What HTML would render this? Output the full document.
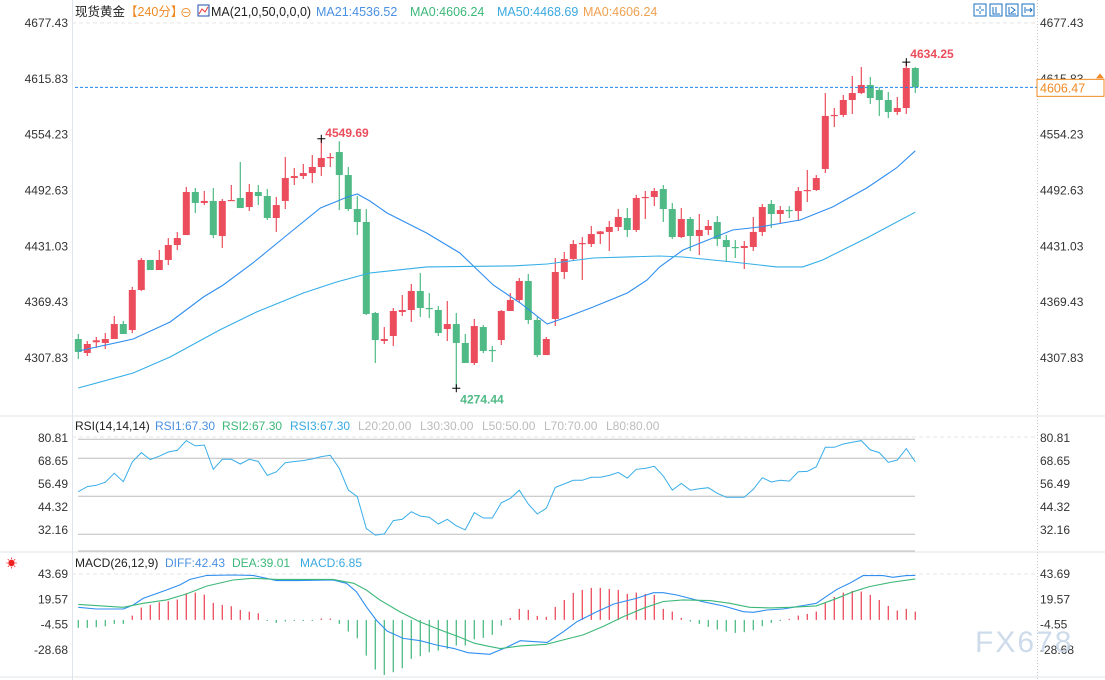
<!DOCTYPE html>
<html><head><meta charset="utf-8">
<style>
body{margin:0;background:#fff;}
svg{display:block;font-family:"Liberation Sans","Noto Sans CJK SC",sans-serif;}
</style></head>
<body>
<svg id="chart" width="1105" height="680" viewBox="0 0 1105 680" xmlns="http://www.w3.org/2000/svg">
<rect x="0" y="0" width="1105" height="680" fill="#fff"/>
<g id="frame">
<line x1="72.5" y1="0" x2="72.5" y2="680" stroke="#dfe5ea"/>
<line x1="1037.5" y1="0" x2="1037.5" y2="680" stroke="#c8c8c8" stroke-dasharray="1,2"/>
<line x1="0" y1="416" x2="1105" y2="416" stroke="#dfe5ea"/>
<line x1="0" y1="552" x2="1105" y2="552" stroke="#dfe5ea"/>
<line x1="0" y1="677" x2="1105" y2="677" stroke="#dfe5ea"/>
<line x1="72" y1="23" x2="1037" y2="23" stroke="#e6e6e6" stroke-dasharray="4,3"/>
<line x1="72" y1="437" x2="1037" y2="437" stroke="#e6e6e6" stroke-dasharray="4,3"/>
<line x1="72" y1="574" x2="1037" y2="574" stroke="#e6e6e6" stroke-dasharray="4,3"/>
</g>
<g font-size="12.5">
<text x="75" y="16" fill="#222">现货黄金</text>
<text x="125" y="16" fill="#f08a24">【240分】</text>
<text x="180" y="17" fill="#f08a24" font-size="12">⊖</text>
<rect x="198" y="5" width="11" height="11" fill="#fff" stroke="#1c4fa8"/>
<path d="M199 14 L202 9 L205 12 L208 7" stroke="#e33" fill="none"/>
<text x="211" y="16" fill="#222">MA(21,0,50,0,0,0)</text>
<text x="316" y="16" fill="#4a90e2">MA21:4536.52</text>
<text x="410" y="16" fill="#3cb878">MA0:4606.24</text>
<text x="497" y="16" fill="#3aa8e0">MA50:4468.69</text>
<text x="583" y="16" fill="#f0a050">MA0:4606.24</text>
</g>
<g stroke="#1a6fc0" fill="none">
<rect x="974" y="4" width="12" height="12"/>
<rect x="990" y="4" width="12" height="12"/>
<rect x="1006" y="4" width="12" height="12"/>
<rect x="1022" y="4" width="12" height="12"/>
<path d="M980 6v3M980 11v3M976 10h3M981 10h3M993 7v7h7M996 7v6M1009 7v7h7M1011 7l4 3-4 3M1025 7v6M1026 10h6M1030 8l2 2-2 2"/>
</g>
<g id="axes"></g>
<g id="plot"></g>
<g font-size="12">
<text x="75" y="430" fill="#222">RSI(14,14,14)</text>
<text x="155" y="430" fill="#4a90e2">RSI1:67.30</text>
<text x="222" y="430" fill="#3cb878">RSI2:67.30</text>
<text x="290" y="430" fill="#3aa8e0">RSI3:67.30</text>
<text x="358" y="430" fill="#bbb">L20:20.00</text>
<text x="420" y="430" fill="#bbb">L30:30.00</text>
<text x="482" y="430" fill="#bbb">L50:50.00</text>
<text x="544" y="430" fill="#bbb">L70:70.00</text>
<text x="606" y="430" fill="#bbb">L80:80.00</text>
</g>
<g font-size="12">
<text x="6" y="567" fill="#e22" font-size="11">☀</text>
<text x="75" y="567" fill="#222">MACD(26,12,9)</text>
<text x="165" y="567" fill="#4a90e2">DIFF:42.43</text>
<text x="232" y="567" fill="#3cb878">DEA:39.01</text>
<text x="300" y="567" fill="#3aa8e0">MACD:6.85</text>
</g>
<text x="975" y="652" font-size="30" fill="#c5d5e8" opacity="0.85" letter-spacing="2">FX678</text>
</svg>
<script>
const opens=[4328.8,4313.3,4325.2,4324.4,4328.8,4345.3,4338.7,4382.9,4416.0,4404.9,4416.0,4432.5,4443.5,4491.0,4478.9,4481.1,4442.4,4481.1,4484.4,4474.4,4491.0,4486.6,4462.3,4481.1,4506.4,4508.6,4511.9,4518.6,4528.5,4535.1,4509.7,4472.2,4457.9,4357.5,4326.6,4332.1,4358.6,4360.8,4381.8,4363.0,4360.8,4339.8,4345.3,4324.4,4302.3,4342.0,4316.7,4327.7,4359.7,4371.8,4392.8,4349.8,4311.1,4350.9,4402.7,4417.1,4433.6,4433.6,4444.6,4446.9,4452.4,4462.3,4449.1,4484.4,4485.5,4494.3,4472.2,4441.3,4461.2,4442.4,4449.1,4457.9,4438.0,4430.3,4429.2,4430.3,4446.9,4477.8,4466.7,4471.1,4470.0,4492.1,4493.2,4516.4,4574.9,4576.0,4592.5,4600.2,4609.1,4603.5,4592.5,4579.3,4583.7,4627.8];
const highs=[4334.3,4326.6,4331.0,4335.4,4354.2,4348.7,4386.2,4418.2,4416.0,4427.0,4440.2,4446.9,4496.5,4495.4,4492.1,4495.4,4483.3,4498.7,4524.1,4499.8,4498.7,4494.3,4485.5,4529.6,4517.5,4521.9,4531.8,4549.69,4534.0,4547.0,4518.6,4486.6,4472.2,4358.6,4342.0,4363.0,4377.3,4389.5,4401.6,4379.5,4365.2,4370.7,4357.5,4334.3,4350.9,4344.2,4321.1,4360.8,4379.5,4396.1,4400.5,4353.1,4331.0,4418.2,4424.8,4438.0,4441.3,4453.5,4448.0,4459.0,4472.2,4473.3,4487.7,4492.1,4495.4,4498.7,4478.9,4473.3,4463.4,4466.7,4460.1,4464.5,4443.5,4438.0,4436.9,4463.4,4477.8,4482.2,4475.5,4475.5,4496.5,4515.3,4509.7,4600.2,4583.7,4598.0,4619.0,4628.9,4617.9,4606.8,4601.3,4595.8,4634.25,4628.9];
const lows=[4306.7,4310.0,4318.9,4317.8,4328.8,4334.3,4335.4,4381.8,4404.9,4404.9,4410.4,4427.0,4443.5,4467.8,4476.6,4440.2,4429.2,4481.1,4473.3,4470.0,4476.6,4460.1,4446.9,4472.2,4498.7,4505.3,4500.9,4508.6,4518.6,4471.1,4470.0,4443.5,4355.3,4302.3,4323.3,4321.1,4354.2,4347.6,4353.1,4351.9,4332.1,4326.6,4274.44,4302.3,4300.1,4313.3,4303.4,4322.2,4359.7,4369.6,4345.3,4308.9,4311.1,4343.1,4395.0,4414.9,4393.9,4430.3,4433.6,4425.9,4448.0,4441.3,4446.9,4461.2,4475.5,4457.9,4439.1,4440.2,4425.9,4421.5,4443.5,4431.4,4413.8,4418.2,4406.0,4425.9,4442.4,4451.3,4456.8,4462.3,4459.0,4480.0,4492.1,4511.9,4562.7,4573.8,4577.1,4599.1,4588.1,4574.9,4572.6,4576.0,4577.1,4600.2];
const closes=[4314.5,4323.3,4327.4,4328.8,4345.3,4334.3,4382.9,4416.0,4404.9,4416.0,4432.5,4440.2,4491.0,4478.9,4481.1,4443.5,4481.1,4482.2,4473.3,4491.0,4486.6,4462.3,4476.6,4506.4,4508.6,4511.9,4518.6,4528.5,4529.6,4509.7,4472.2,4457.9,4356.4,4327.7,4328.8,4359.7,4360.8,4381.8,4363.0,4361.9,4335.4,4345.3,4324.4,4302.3,4343.1,4315.6,4315.6,4359.7,4371.8,4392.8,4349.8,4311.1,4328.8,4402.7,4417.1,4433.6,4434.7,4444.6,4447.5,4452.4,4463.4,4449.1,4484.4,4485.5,4492.1,4472.2,4441.3,4461.2,4442.4,4449.1,4453.5,4439.1,4430.3,4429.2,4431.4,4446.9,4474.4,4466.7,4471.1,4470.0,4492.1,4493.2,4506.4,4574.9,4576.0,4592.5,4600.2,4609.1,4594.7,4592.5,4579.3,4583.7,4627.8,4606.47];
const ma21Idx=[0,6.1,10.2,13.9,16.1,19.4,23.2,26.9,29.9,31,32.4,34.3,38.7,42.4,46.1,49.1,52.1,54.3,57.2,61,63.2,64.6,67.2,72.7,75.7,80.2,83.8,87.6,90.9,93];
const ma21Vals=[4315.5,4328.8,4347.6,4375.1,4388.4,4412.7,4443.5,4473.3,4485.5,4488.8,4481.1,4467.8,4445.8,4423.7,4388.4,4368.5,4345.3,4353.1,4364.1,4379.5,4393.9,4408.3,4427.0,4449.1,4452.4,4460.1,4474.4,4495.4,4517.5,4536.5];
const ma50Idx=[0,6.1,10.2,15.7,19.8,25,28.7,32.4,38.7,48.3,52.1,57.2,64.6,67.2,72.7,77.6,80.5,82.7,87.6,93];
const ma50Vals=[4274.7,4291.3,4308.9,4338.7,4358.6,4379.5,4391.7,4401.6,4408.3,4409.4,4411.6,4418.2,4420.4,4419.3,4413.8,4408.3,4408.3,4416.0,4440.2,4468.7];
const priceTicks=[4677.43,4615.83,4554.23,4492.63,4431.03,4369.43,4307.83];
const lastPrice=4606.47;
const rsiVals=[52.4,55.1,55.8,57.4,62.1,57.7,68.1,73.0,69.3,71.1,73.3,74.2,79.3,76.5,77.0,64.2,69.5,69.5,67.0,69.5,68.3,61.0,62.9,67.7,68.3,68.8,69.7,70.9,71.6,64.7,53.3,49.8,33.1,29.6,30.2,37.2,37.9,41.9,39.6,39.0,35.4,37.9,34.5,32.3,41.4,38.6,38.6,46.6,48.9,53.2,45.9,40.7,43.7,54.7,56.5,58.4,58.4,60.0,60.0,61.0,62.6,59.6,64.2,64.7,65.8,60.7,53.2,56.8,53.2,54.0,54.5,51.6,49.5,49.5,49.5,53.7,59.8,57.5,58.4,58.0,62.9,63.1,65.6,75.8,75.8,77.5,78.4,79.3,74.4,73.0,67.9,69.1,75.1,68.1];
const rsiLevels=[80,70,50,30];
const rsiTicks=[80.81,68.65,56.49,44.32,32.16];
const macdHist=[-7.6,-7.6,-7.0,-6.0,-3.8,-3.8,4.1,11.7,14.3,16.8,17.8,19.4,25.4,26.0,24.1,16.2,14.3,13.0,9.5,7.9,6.3,-1.0,-2.9,-1.6,-1.0,-1.0,-1.0,1.3,1.3,-3.8,-11.1,-17.5,-34.0,-47.3,-52.4,-49.8,-46.0,-37.1,-34.6,-30.8,-29.2,-27.6,-24.4,-24.4,-18.5,-17.1,-14.3,-5.4,1.9,10.5,9.5,3.8,2.9,12.4,19.0,25.7,28.6,30.5,30.5,29.5,28.6,24.8,26.0,24.8,23.8,10.5,7.9,1.9,-1.6,-3.8,-6.7,-9.2,-11.1,-12.4,-11.7,-9.8,-6.0,-2.9,-1.0,1.0,4.1,5.7,7.9,16.8,21.9,26.0,27.6,27.0,23.8,19.0,13.3,8.9,10.5,7.9];
const diffIdx=[0,2,5,6.1,7.2,9.8,11.3,12.4,14.3,17.2,19.4,20.9,22,24.3,28.3,29.8,30.9,32,33.1,34.3,36.1,38,39.8,41.7,43.3,45.7,47.6,49.1,50.6,52.1,53.9,55.4,57.6,59.5,62,63.9,65,66.5,69.4,71.7,73.9,75,76.5,78.3,79.4,80.9,82,83.1,84.3,85.7,87.2,89.4,90.5,92,93];
const diffVals=[12.0,10.4,10.4,14.2,20.5,28.5,33.3,38.6,42.4,42.8,42.4,39.6,37.4,37.4,38.0,34.9,26.9,12.6,-0.1,-10.6,-17.6,-19.8,-23.9,-27.1,-31.2,-32.8,-26.1,-19.8,-20.7,-21.4,-11.2,-1.7,7.8,15.1,20.5,25.9,25.9,23.7,17.3,13.2,7.8,7.2,9.4,10.4,12.0,14.2,15.8,22.2,29.1,34.9,42.2,42.2,40.6,42.2,42.4];
const deaIdx=[0,5,7.2,9.8,12,14.3,17.2,19.4,22,28.3,30.6,32,33.5,35.7,37.9,40.2,42.4,44,45.4,46.9,49.1,52,53.9,56.1,58.3,60.6,62.8,65,67.2,70.2,72.4,74.6,76.9,79.1,82,84.3,86.1,87.9,90.2,93];
const deaVals=[14.8,12.0,15.8,19.0,24.7,32.3,38.0,39.6,38.6,38.6,34.9,28.5,19.0,7.9,-1.6,-9.5,-16.5,-22.2,-24.8,-27.3,-24.8,-23.2,-19.0,-14.3,-6.3,3.2,11.1,17.5,19.0,18.4,15.8,12.0,11.4,12.0,13.3,20.6,26.9,31.7,35.6,39.0];
const macdTicks=[43.69,19.57,-4.55,-28.68];

const NS='http://www.w3.org/2000/svg';
const X0=78.3, STEP=9;
function xAt(i){return X0+STEP*i;}
function yP(v){return 358-(v-4307.83)*0.9063;}
function yR(v){return 591.3-1.9*v;}
function yM(v){return 619.9-1.05*v;}
function mk(tag,attrs,parent){const e=document.createElementNS(NS,tag);for(const k in attrs)e.setAttribute(k,attrs[k]);parent.appendChild(e);return e;}
const plot=document.getElementById('plot');
const axes=document.getElementById('axes');
const RED='#ec4d5c', GREEN='#4fba85';

// price axis labels
priceTicks.forEach(v=>{
  const y=yP(v);
  let t=mk('text',{x:68,y:y+4,'text-anchor':'end','font-size':12,fill:'#333'},axes);t.textContent=v.toFixed(2);
  
  
  let t2=mk('text',{x:1040,y:y+4,'font-size':12,fill:'#333'},axes);t2.textContent=v.toFixed(2);
  
  
});
rsiTicks.forEach(v=>{
  const y=yR(v);
  let t=mk('text',{x:68,y:y+4,'text-anchor':'end','font-size':12,fill:'#333'},axes);t.textContent=v.toFixed(2);
  
  
  let t2=mk('text',{x:1040,y:y+4,'font-size':12,fill:'#333'},axes);t2.textContent=v.toFixed(2);
  
  
});
macdTicks.forEach(v=>{
  const y=yM(v);
  let t=mk('text',{x:68,y:y+4,'text-anchor':'end','font-size':12,fill:'#333'},axes);t.textContent=v.toFixed(2);
  
  
  let t2=mk('text',{x:1040,y:y+4,'font-size':12,fill:'#333'},axes);t2.textContent=v.toFixed(2);
  
  
});
// RSI level lines
rsiLevels.forEach(v=>{
  const l=mk('line',{x1:78,x2:915,y1:yR(v),y2:yR(v),stroke:'#bdbdbd'},plot);
  
  
});
mk('line',{x1:78,x2:915,y1:551,y2:551,stroke:'#bdbdbd'},plot);

// candles
opens.forEach((o,i)=>{
  const c=closes[i],h=highs[i],l=lows[i];
  const up=c>=o, col=up?RED:GREEN, x=xAt(i);
  const g=mk('g',{},plot);
  
  
  mk('line',{x1:x,x2:x,y1:yP(h),y2:yP(l),stroke:col,'stroke-width':1.2},g);
  const top=yP(Math.max(o,c)),bot=yP(Math.min(o,c));
  mk('rect',{x:x-3.5,y:top,width:7,height:Math.max(1.2,bot-top),fill:col},g);
});
function poly(idx,vals,yf,col,name){
  const pts=idx.map((k,j)=>xAt(k).toFixed(1)+','+yf(vals[j]).toFixed(1)).join(' ');
  const p=mk('polyline',{points:pts,fill:'none',stroke:col,'stroke-width':1.1},plot);
  
  
}
poly(ma21Idx,ma21Vals,yP,'#2f8ef0','ma21-line');
poly(ma50Idx,ma50Vals,yP,'#35aee8','ma50-line');

// last price line & tag
const ly=yP(lastPrice);
const lpl=mk('line',{x1:75,x2:1105,y1:ly,y2:ly,stroke:'#1e88f0','stroke-dasharray':'3,2'},plot);


const tag=mk('rect',{x:1037,y:ly-8,width:67,height:17,fill:'#fff',stroke:'#f08a24'},plot);


const tt=mk('text',{x:1040,y:ly+5,'font-size':12.5,fill:'#f08a24'},plot);tt.textContent=lastPrice.toFixed(2);


mk('path',{d:`M1096 ${ly-9} l4 -5 l4 5 z`,fill:'#f08a24'},plot);

// extreme markers
function marker(i,v,label,col,dy){
  const x=xAt(i),y=yP(v);
  mk('path',{d:`M${x-4} ${y} h8 M${x} ${y-4} v8`,stroke:'#000','stroke-width':1},plot);
  const t=mk('text',{x:x+4,y:y+dy,'font-size':12,fill:col,'font-weight':'bold'},plot);t.textContent=label;
  
  
}
const hiIdx=highs.indexOf(Math.max(...highs.slice(0,60)));
marker(hiIdx,highs[hiIdx],highs[hiIdx].toFixed(2),'#ec4d5c',-2);
const loIdx=lows.indexOf(Math.min(...lows));
marker(loIdx,lows[loIdx],lows[loIdx].toFixed(2),'#4fba85',15);
const hi2=highs.indexOf(Math.max(...highs));
marker(hi2,highs[hi2],highs[hi2].toFixed(2),'#ec4d5c',-4);

// RSI line
const rp=mk('polyline',{points:rsiVals.map((v,i)=>xAt(i).toFixed(1)+','+yR(v).toFixed(1)).join(' '),fill:'none',stroke:'#3aaee8','stroke-width':1},plot);



// MACD histogram
macdHist.forEach((v,i)=>{
  const b=mk('line',{x1:xAt(i),x2:xAt(i),y1:yM(0),y2:yM(v),stroke:v>=0?RED:GREEN,'stroke-width':1.3},plot);
  
  
});
poly(diffIdx,diffVals,yM,'#2f8ef0','diff-line');
poly(deaIdx,deaVals,yM,'#3cb878','dea-line');
</script>
</body></html>
